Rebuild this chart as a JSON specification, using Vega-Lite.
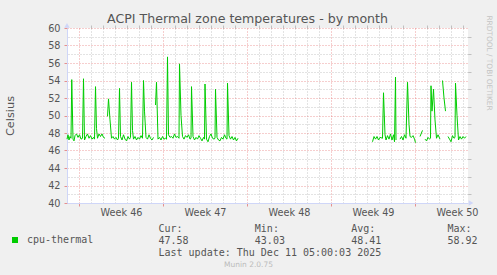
{
 "$schema": "https://vega.github.io/schema/vega-lite/v6.json",
 "width": 401, "height": 175,
 "autosize": {"type": "none"},
 "padding": {"left": 67, "top": 28, "right": 29, "bottom": 72},
 "background": "#F0F0F0",
 "title": {"text": "ACPI Thermal zone temperatures - by month", "font": "DejaVu Sans", "fontSize": 12.6, "fontWeight": "normal", "color": "#555555", "anchor": "middle", "dx": -20, "dy": 25, "offset": 4, "baseline": "alphabetic"},
 "config": {"view": {"stroke": null, "fill": "#FFFFFF"}, "axis": {"labelFont": "DejaVu Sans", "titleFont": "DejaVu Sans", "titleFontWeight": "normal"}},
 "datasets": {"temps": [
  {"t":0,"temp":47.3,"seg":1},{"t":2,"temp":47.8,"seg":1},{"t":4,"temp":47.2,"seg":1},{"t":6,"temp":47.6,"seg":1},{"t":8,"temp":47.4,"seg":1},{"t":9.5,"temp":54.1,"seg":1},{"t":12,"temp":47.3,"seg":1},{"t":14,"temp":47.1,"seg":1},{"t":16,"temp":47.7,"seg":1},{"t":19,"temp":47.9,"seg":1},{"t":22,"temp":47.5,"seg":1},{"t":25,"temp":47.8,"seg":1},{"t":28,"temp":47.3,"seg":1},{"t":31,"temp":47.4,"seg":1},{"t":33,"temp":54.2,"seg":1},{"t":35,"temp":47.2,"seg":1},{"t":38,"temp":47.6,"seg":1},{"t":41,"temp":47.9,"seg":1},{"t":44,"temp":47.4,"seg":1},{"t":47,"temp":47.7,"seg":1},{"t":50,"temp":47.3,"seg":1},{"t":53,"temp":47.5,"seg":1},{"t":55,"temp":47.3,"seg":1},{"t":57,"temp":53.3,"seg":1},{"t":59,"temp":48.5,"seg":1},{"t":61,"temp":47.4,"seg":1},{"t":64,"temp":47.9,"seg":1},{"t":67,"temp":47.6,"seg":1},{"t":70,"temp":47.9,"seg":1},{"t":73,"temp":47.5,"seg":1},{"t":76,"temp":47.4,"seg":1},
  {"t":81,"temp":49.9,"seg":2},{"t":83,"temp":51.9,"seg":2},{"t":86,"temp":49.5,"seg":2},{"t":89,"temp":47.4,"seg":2},{"t":92,"temp":47.6,"seg":2},{"t":95,"temp":47.3,"seg":2},{"t":98,"temp":47.5,"seg":2},{"t":101,"temp":47.2,"seg":2},{"t":103,"temp":47.4,"seg":2},{"t":105,"temp":53.1,"seg":2},{"t":107,"temp":47.6,"seg":2},{"t":110,"temp":47.2,"seg":2},{"t":113,"temp":47.8,"seg":2},{"t":116,"temp":47.3,"seg":2},{"t":119,"temp":47.1,"seg":2},{"t":122,"temp":47.6,"seg":2},{"t":125,"temp":47.3,"seg":2},{"t":127,"temp":47.5,"seg":2},{"t":129,"temp":53.8,"seg":2},{"t":131,"temp":48.3,"seg":2},{"t":133,"temp":47.3,"seg":2},{"t":136,"temp":47.6,"seg":2},{"t":139,"temp":47.2,"seg":2},{"t":142,"temp":47.5,"seg":2},{"t":145,"temp":47.3,"seg":2},{"t":148,"temp":47.7,"seg":2},{"t":151,"temp":47.4,"seg":2},{"t":153,"temp":54.0,"seg":2},{"t":155,"temp":50.5,"seg":2},{"t":158,"temp":47.5,"seg":2},{"t":161,"temp":47.3,"seg":2},{"t":164,"temp":47.8,"seg":2},{"t":167,"temp":47.4,"seg":2},{"t":170,"temp":47.2,"seg":2},{"t":173,"temp":47.5,"seg":2},
  {"t":177,"temp":51.2,"seg":3},{"t":179,"temp":53.8,"seg":3},{"t":182,"temp":47.3,"seg":3},{"t":185,"temp":47.5,"seg":3},{"t":188,"temp":47.2,"seg":3},{"t":191,"temp":47.6,"seg":3},{"t":194,"temp":47.3,"seg":3},{"t":197,"temp":47.4,"seg":3},{"t":199,"temp":47.3,"seg":3},{"t":201,"temp":56.7,"seg":3},{"t":203,"temp":47.8,"seg":3},{"t":206,"temp":47.5,"seg":3},{"t":209,"temp":47.6,"seg":3},{"t":212,"temp":47.4,"seg":3},{"t":215,"temp":47.9,"seg":3},{"t":218,"temp":47.5,"seg":3},{"t":221,"temp":47.6,"seg":3},{"t":224,"temp":47.4,"seg":3},{"t":225,"temp":55.9,"seg":3},{"t":228,"temp":50.0,"seg":3},{"t":231,"temp":47.6,"seg":3},{"t":234,"temp":47.3,"seg":3},{"t":237,"temp":47.7,"seg":3},{"t":240,"temp":47.5,"seg":3},{"t":243,"temp":47.8,"seg":3},{"t":246,"temp":47.3,"seg":3},{"t":248,"temp":47.4,"seg":3},{"t":249,"temp":53.3,"seg":3},{"t":252,"temp":47.6,"seg":3},{"t":255,"temp":47.2,"seg":3},{"t":258,"temp":47.5,"seg":3},{"t":261,"temp":47.3,"seg":3},{"t":264,"temp":47.7,"seg":3},{"t":267,"temp":47.4,"seg":3},{"t":270,"temp":47.1,"seg":3},{"t":273,"temp":47.5,"seg":3},{"t":275,"temp":47.3,"seg":3},{"t":276,"temp":53.6,"seg":3},{"t":279,"temp":47.3,"seg":3},{"t":282,"temp":47.0,"seg":3},{"t":285,"temp":47.6,"seg":3},{"t":288,"temp":47.9,"seg":3},{"t":291,"temp":47.4,"seg":3},{"t":294,"temp":47.3,"seg":3},{"t":296,"temp":47.4,"seg":3},{"t":297,"temp":53.0,"seg":3},{"t":300,"temp":47.5,"seg":3},{"t":303,"temp":47.2,"seg":3},{"t":306,"temp":47.1,"seg":3},{"t":309,"temp":47.5,"seg":3},{"t":312,"temp":47.3,"seg":3},{"t":315,"temp":47.8,"seg":3},{"t":318,"temp":47.4,"seg":3},{"t":320,"temp":47.3,"seg":3},{"t":321,"temp":53.7,"seg":3},{"t":324,"temp":47.7,"seg":3},{"t":327,"temp":47.3,"seg":3},{"t":330,"temp":47.6,"seg":3},{"t":333,"temp":47.2,"seg":3},{"t":336,"temp":47.5,"seg":3},{"t":339,"temp":47.1,"seg":3},{"t":342,"temp":47.4,"seg":3},
  {"t":611,"temp":47.0,"seg":4},{"t":614,"temp":47.6,"seg":4},{"t":617,"temp":47.3,"seg":4},{"t":620,"temp":47.6,"seg":4},{"t":623,"temp":47.2,"seg":4},{"t":626,"temp":47.5,"seg":4},{"t":631,"temp":47.4,"seg":4},{"t":633,"temp":52.6,"seg":4},{"t":636,"temp":47.8,"seg":4},{"t":638,"temp":47.2,"seg":4},{"t":641,"temp":47.7,"seg":4},{"t":644,"temp":47.3,"seg":4},{"t":647,"temp":47.9,"seg":4},{"t":650,"temp":47.2,"seg":4},{"t":653,"temp":47.8,"seg":4},{"t":655,"temp":47.0,"seg":4},{"t":657,"temp":54.4,"seg":4},{"t":658,"temp":47.2,"seg":4},
  {"t":666,"temp":47.3,"seg":5},{"t":669,"temp":47.6,"seg":5},{"t":672,"temp":47.2,"seg":5},{"t":675,"temp":47.8,"seg":5},{"t":678,"temp":47.4,"seg":5},{"t":681,"temp":53.8,"seg":5},{"t":684,"temp":49.0,"seg":5},{"t":686,"temp":47.6,"seg":5},{"t":689,"temp":47.5,"seg":5},{"t":692,"temp":47.7,"seg":5},{"t":695,"temp":47.3,"seg":5},{"t":697,"temp":46.9,"seg":5},
  {"t":706,"temp":47.6,"seg":6},{"t":711,"temp":48.3,"seg":6},
  {"t":716,"temp":47.3,"seg":7},{"t":719,"temp":47.1,"seg":7},{"t":722,"temp":47.5,"seg":7},{"t":725,"temp":47.3,"seg":7},{"t":727,"temp":47.4,"seg":7},{"t":728,"temp":53.4,"seg":7},{"t":730,"temp":50.5,"seg":7},{"t":733,"temp":53.0,"seg":7},{"t":736,"temp":49.5,"seg":7},{"t":739,"temp":47.4,"seg":7},{"t":742,"temp":47.8,"seg":7},{"t":746,"temp":47.3,"seg":7},
  {"t":751,"temp":54.0,"seg":8},{"t":754,"temp":52.0,"seg":8},{"t":757,"temp":50.5,"seg":8},
  {"t":762,"temp":47.6,"seg":9},{"t":765,"temp":47.3,"seg":9},{"t":768,"temp":47.0,"seg":9},{"t":771,"temp":47.7,"seg":9},{"t":774,"temp":47.4,"seg":9},{"t":776,"temp":47.5,"seg":9},{"t":777,"temp":53.7,"seg":9},{"t":780,"temp":50.0,"seg":9},{"t":783,"temp":47.2,"seg":9},{"t":786,"temp":47.6,"seg":9},{"t":789,"temp":47.3,"seg":9},{"t":792,"temp":47.6,"seg":9},{"t":795,"temp":47.4,"seg":9},{"t":798,"temp":47.6,"seg":9}
 ]},
 "layer": [
  {
   "data": {"name": "temps"},
   "mark": {"type": "line", "strokeWidth": 1},
   "encoding": {
    "x": {"field": "t", "type": "quantitative", "scale": {"domain": [0, 802], "nice": false, "zero": false},
      "axis": {"values": [24, 192, 360, 528, 696], "labelExpr": "'Week ' + (46 + (datum.value - 24) / 168)", "labelOffset": 42, "labelFlush": false, "labelPadding": 1, "labelFontSize": 9.7, "labelColor": "#555555", "tickSize": 3, "tickColor": "#DE5050", "tickOpacity": 0.6, "grid": true, "gridColor": "#DE5050", "gridOpacity": 0.56, "gridDash": [1, 2], "domainColor": "#CFD6F8", "title": null}},
    "y": {"field": "temp", "type": "quantitative", "scale": {"domain": [40, 60], "nice": false, "zero": false},
      "axis": {"values": [40, 42, 44, 46, 48, 50, 52, 54, 56, 58, 60], "labelFontSize": 9.7, "labelColor": "#555555", "labelPadding": 4, "tickSize": 3, "tickColor": "#DE5050", "tickOpacity": 0.6, "grid": true, "gridColor": "#DE5050", "gridOpacity": 0.56, "gridDash": [1, 2], "domainColor": "#CFD6F8", "title": "Celsius", "titleFontSize": 11.3, "titleColor": "#555555", "titleX": -57, "titleY": 87.5, "titleAngle": -90, "titleAlign": "center", "titleBaseline": "middle"}},
    "detail": {"field": "seg", "type": "nominal"},
    "color": {"datum": "cpu-thermal", "scale": {"range": ["#00CC00"]},
      "legend": {"title": null, "orient": "none", "legendX": -57, "legendY": 207, "symbolType": "square", "symbolSize": 9, "symbolStrokeWidth": 3, "symbolStrokeColor": "#00CC00", "symbolFillColor": "#00CC00", "labelFont": "DejaVu Sans Mono", "labelFontSize": 10, "labelColor": "#555555", "labelOffset": 7, "padding": 0}}
   }
  },
  {
   "data": {"name": "temps"},
   "mark": {"type": "line", "strokeOpacity": 0},
   "encoding": {
    "x": {"field": "t", "type": "quantitative", "scale": {"domain": [0, 802], "nice": false, "zero": false},
      "axis": {"values": [48, 72, 96, 120, 144, 168, 216, 240, 264, 288, 312, 336, 384, 408, 432, 456, 480, 504, 552, 576, 600, 624, 648, 672, 720, 744, 768, 792], "labels": false, "domain": false, "tickSize": 3, "tickColor": "#8F8F8F", "tickOpacity": 0.5, "grid": true, "gridColor": "#8F8F8F", "gridOpacity": 0.5, "gridDash": [1, 2], "title": "Munin 2.0.75", "titleFontSize": 7.5, "titleColor": "#BBBBBB", "titleX": 181, "titleY": 236, "titleAlign": "center", "titleBaseline": "middle"}},
    "y": {"field": "temp", "type": "quantitative", "scale": {"domain": [40, 60], "nice": false, "zero": false},
      "axis": {"values": [41, 43, 45, 47, 49, 51, 53, 55, 57, 59], "labels": false, "domain": false, "tickSize": 3, "tickColor": "#8F8F8F", "tickOpacity": 0.5, "grid": true, "gridColor": "#8F8F8F", "gridOpacity": 0.5, "gridDash": [1, 2], "title": null}},
    "detail": {"field": "seg", "type": "nominal"}
   }
  },
  {
   "data": {"name": "temps"},
   "mark": {"type": "line", "strokeOpacity": 0},
   "encoding": {
    "x": {"field": "t", "type": "quantitative", "scale": {"domain": [0, 802], "nice": false, "zero": false},
      "axis": {"labels": false, "domain": false, "ticks": false, "grid": false,
        "title": ["Cur:\u00a0\u00a0\u00a0\u00a0\u00a0\u00a0\u00a0\u00a0\u00a0\u00a0\u00a0\u00a0Min:\u00a0\u00a0\u00a0\u00a0\u00a0\u00a0\u00a0\u00a0\u00a0\u00a0\u00a0\u00a0Avg:\u00a0\u00a0\u00a0\u00a0\u00a0\u00a0\u00a0\u00a0\u00a0\u00a0\u00a0\u00a0Max:", "47.58\u00a0\u00a0\u00a0\u00a0\u00a0\u00a0\u00a0\u00a0\u00a0\u00a0\u00a043.03\u00a0\u00a0\u00a0\u00a0\u00a0\u00a0\u00a0\u00a0\u00a0\u00a0\u00a048.41\u00a0\u00a0\u00a0\u00a0\u00a0\u00a0\u00a0\u00a0\u00a0\u00a0\u00a058.92", "\u00a0\u00a0\u00a0\u00a0\u00a0\u00a0\u00a0\u00a0\u00a0\u00a0\u00a0\u00a0\u00a0\u00a0\u00a0\u00a0\u00a0Last\u00a0update:\u00a0Thu\u00a0Dec\u00a011\u00a005:00:03\u00a02025"],
        "titleFont": "DejaVu Sans Mono", "titleFontSize": 10, "titleColor": "#555555", "titleAlign": "left", "titleBaseline": "alphabetic", "titleX": 91, "titleY": 203.6, "titleLineHeight": 11.9}},
    "y": {"field": "temp", "type": "quantitative", "scale": {"domain": [40, 60], "nice": false, "zero": false},
      "axis": {"orient": "right", "labels": false, "domain": false, "ticks": false, "grid": false, "title": "RRDTOOL / TOBI OETIKER", "titleFontSize": 7.4, "titleColor": "#C4C4C4", "titleAngle": 90, "titleX": 20, "titleY": 34.5, "titleAlign": "center", "titleBaseline": "middle"}},
    "detail": {"field": "seg", "type": "nominal"}
   }
  },
  {
   "data": {"values": [{}]},
   "mark": {"type": "point", "shape": "triangle-right", "filled": true, "color": "#CFD6F8", "size": 30, "opacity": 1},
   "encoding": {
    "x": {"datum": 808, "type": "quantitative", "axis": null, "scale": {"domain": [0, 802], "nice": false, "zero": false}},
    "y": {"datum": 40, "type": "quantitative", "axis": null, "scale": {"domain": [40, 60], "nice": false, "zero": false}}
   }
  },
  {
   "data": {"values": [{}]},
   "mark": {"type": "point", "shape": "triangle-up", "filled": true, "color": "#CFD6F8", "size": 30, "opacity": 1},
   "encoding": {
    "x": {"datum": 0, "type": "quantitative", "axis": null, "scale": {"domain": [0, 802], "nice": false, "zero": false}},
    "y": {"datum": 60.3, "type": "quantitative", "axis": null, "scale": {"domain": [40, 60], "nice": false, "zero": false}}
   }
  }
 ],
 "resolve": {"axis": {"x": "independent", "y": "independent"}}
}
